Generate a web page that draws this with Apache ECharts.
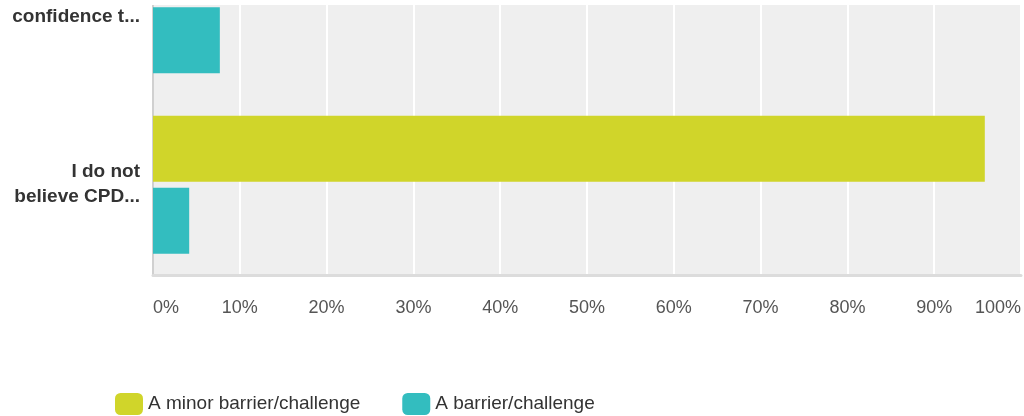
<!DOCTYPE html>
<html>
<head>
<meta charset="utf-8">
<script src="https://cdn.jsdelivr.net/npm/echarts@6/dist/echarts.min.js"></script>
<style>
html,body{margin:0;padding:0;background:#fff;overflow:hidden;}
#wrap{position:relative;width:1024px;height:416px;overflow:hidden;}
#chart{position:absolute;left:0;top:-86px;width:1024px;height:502px;}
#mask{position:absolute;left:0;top:0;width:1024px;height:5px;background:#fff;}
</style>
</head>
<body>
<div id="wrap">
<div id="chart"></div>
<div id="mask"></div>
</div>
<script>
var categories = ["I feel I lack the\nconfidence t...", "I do not\nbelieve CPD..."];
var seriesNames = ["A minor barrier/challenge", "A barrier/challenge"];
var minorValues = [45.0, 95.83];
var barrierValues = [7.7, 4.17];
var tickValues = [0, 10, 20, 30, 40, 50, 60, 70, 80, 90, 100];
var colors = ["#d0d52a", "#33bdbf"];

var chart = echarts.init(document.getElementById('chart'));
chart.setOption({
  animation: false,
  color: colors,
  grid: {
    left: 153, right: 2, top: 0, height: 361,
    show: true, backgroundColor: '#efefef', borderWidth: 0
  },
  xAxis: {
    type: 'value', min: 0, max: 100, interval: 10,
    axisLine: {show: true, lineStyle: {color: '#dcdcdc', width: 3}},
    axisTick: {show: false},
    splitLine: {show: true, lineStyle: {color: '#ffffff', width: 2}},
    axisLabel: {
      margin: 24, fontSize: 18, color: '#555', fontFamily: 'Liberation Sans, Arial, sans-serif',
      alignMinLabel: 'left', alignMaxLabel: 'right',
      formatter: function (v) { return tickValues.indexOf(v) >= 0 ? v + '%' : ''; }
    }
  },
  yAxis: {
    type: 'category', data: categories, inverse: true,
    axisLine: {show: true, lineStyle: {color: '#d0d0d0', width: 2}},
    axisTick: {show: false},
    splitLine: {show: false},
    axisLabel: {
      margin: 13, fontSize: 19, fontWeight: 'bold', color: '#333', lineHeight: 25,
      fontFamily: 'Liberation Sans, Arial, sans-serif', align: 'right'
    }
  },
  legend: {
    left: 110, top: 474,
    icon: 'roundRect', itemWidth: 28, itemHeight: 22, itemGap: 42,
    textStyle: {fontSize: 19, color: '#333', fontFamily: 'Liberation Sans, Arial, sans-serif'},
    data: seriesNames
  },
  series: [
    {name: seriesNames[0], type: 'bar', data: minorValues, barWidth: 66, barGap: '9%'},
    {name: seriesNames[1], type: 'bar', data: barrierValues, barWidth: 66, barGap: '9%'}
  ]
});
</script>
</body>
</html>
